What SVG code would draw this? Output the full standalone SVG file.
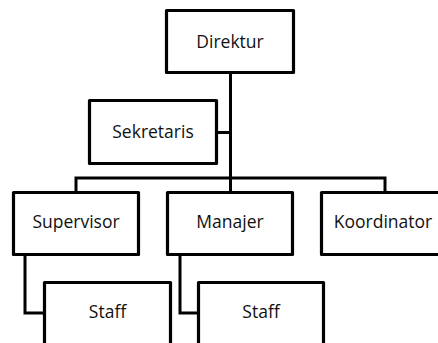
<svg xmlns="http://www.w3.org/2000/svg" width="438" height="343" viewBox="0 0 438 343">
<style>
.box{fill:#fff;stroke:#000;stroke-width:3.2;stroke-linejoin:round}
.lbl{font-family:"Open Sans","Liberation Sans",sans-serif;font-size:17.5px;fill:#111;text-anchor:middle}
.ln{fill:none;stroke:#000;stroke-width:3;stroke-linejoin:miter}
</style>
<rect width="438" height="343" fill="#fff"/>
<g id="connectors">
<path class="ln" d="M230.5,72 V192"/>
<path class="ln" d="M217,132.5 H230.5"/>
<path class="ln" d="M76,192 V178 H385 V192"/>
<path class="ln" d="M25,255 V313 H45"/>
<path class="ln" d="M180,255 V313 H199"/>
</g>
<g id="direktur"><rect class="box" x="166.5" y="10.5" width="127" height="62"/><text class="lbl" x="230" y="47.5">Direktur</text></g>
<g id="sekretaris"><rect class="box" x="89.5" y="100.5" width="127" height="63"/><text class="lbl" x="153" y="137.5">Sekretaris</text></g>
<g id="supervisor"><rect class="box" x="13.5" y="192.5" width="125" height="62"/><text class="lbl" x="76" y="228">Supervisor</text></g>
<g id="manajer"><rect class="box" x="167.5" y="192.5" width="125" height="62"/><text class="lbl" x="230" y="228">Manajer</text></g>
<g id="koordinator"><rect class="box" x="321.5" y="192.5" width="125" height="62"/><text class="lbl" x="383" y="228">Koordinator</text></g>
<g id="staff1"><rect class="box" x="44.5" y="282.5" width="126" height="64"/><text class="lbl" x="107.5" y="318">Staff</text></g>
<g id="staff2"><rect class="box" x="198.5" y="282.5" width="125" height="64"/><text class="lbl" x="261" y="318">Staff</text></g>
</svg>
